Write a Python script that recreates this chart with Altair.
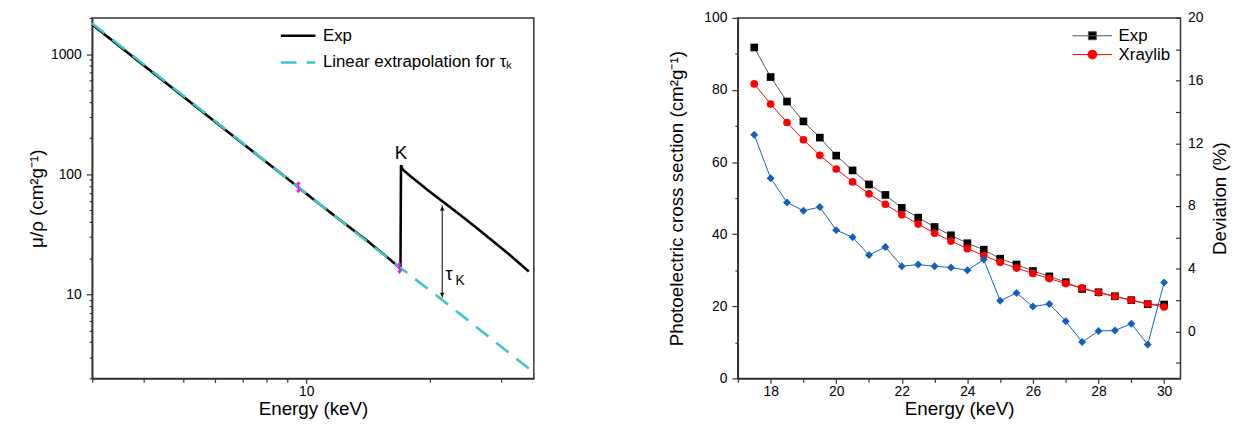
import altair as alt
import pandas as pd

FONT = "Liberation Sans"

# ---------------- Left panel: mu/rho vs energy (log-log) ----------------
exp_E = [3, 4, 5, 6, 7, 8, 9, 10, 12, 14, 16, 17.0, 17.05, 17.2, 17.46, 18, 19, 20, 21.8, 24, 26.3, 28, 31.6, 35]
exp_mu = [1760, 810, 445, 272, 180, 126, 92, 69, 42.5, 28.5, 19.6, 16.4, 119, 110, 105, 96, 83, 72, 57.6, 44.8, 35.0, 29.4, 21.0, 15.5]
lin_E = [3, 9.57, 16.9, 21.5, 35.1]
lin_mu = [1800, 78, 16.9, 9.0, 2.4]
fit_E = [9.57, 16.9]
fit_mu = [78, 16.6]
tau_E = [21.5]
tau_top = [55]
tau_bot = [9.4]
k_label_E = [17.05]
k_label_mu = [150]
tau_label_E = [21.9]
tau_label_mu = [14.5]

series_left = ["Exp", "Linear extrapolation for τₖ"]
colors_left = ["#000000", "#40c4c4"]

df_exp = pd.DataFrame({"E": exp_E, "mu": exp_mu, "curve": series_left[0]})
df_lin = pd.DataFrame({"E": lin_E, "mu": lin_mu, "curve": series_left[1]})
df_fit = pd.DataFrame({"E": fit_E, "mu": fit_mu})
df_tau = pd.DataFrame({"E": tau_E, "top": tau_top, "bot": tau_bot})
df_k = pd.DataFrame({"E": k_label_E, "mu": k_label_mu, "t": ["K"]})
df_tl = pd.DataFrame({"E": tau_label_E, "mu": tau_label_mu})

x_vals_left = [3, 4, 5, 6, 7, 8, 9, 10, 20, 30]
y_vals_left = [2, 3, 4, 5, 6, 7, 8, 9, 10, 20, 30, 40, 50, 60, 70, 80, 90,
               100, 200, 300, 400, 500, 600, 700, 800, 900, 1000, 2000]

xL = alt.X("E:Q", scale=alt.Scale(type="log", domain=[3, 36], nice=False),
           axis=alt.Axis(values=x_vals_left, labelExpr="datum.value == 10 ? '10' : ''",
                         title="Energy (keV)", labelPadding=1, titlePadding=1,
                         tickSize={"condition": {"test": "datum.value == 10", "value": 5}, "value": 4}))
yscaleL = alt.Scale(type="log", domain=[2, 2000], nice=False)
yL = alt.Y("mu:Q", scale=yscaleL,
           axis=alt.Axis(values=y_vals_left,
                         labelExpr="(datum.value == 10 || datum.value == 100 || datum.value == 1000) ? datum.value : ''",
                         title="μ/ρ (cm²g⁻¹)", labelPadding=5,
                         tickSize={"condition": {"test": "datum.value == 10 || datum.value == 100 || datum.value == 1000", "value": 6}, "value": 3}))

leg_left = alt.Legend(orient="none", legendX=189, legendY=-1, title=None, symbolType="stroke",
                      symbolSize=1225, symbolStrokeWidth=2.5, labelFontSize=17, labelOffset=6,
                      rowPadding=-14, labelLimit=400)
colL = alt.Color("curve:N", scale=alt.Scale(domain=series_left, range=colors_left), legend=leg_left)
dashL = alt.StrokeDash("curve:N", scale=alt.Scale(domain=series_left, range=[[1, 0], [16, 10]]), legend=leg_left)

exp_line = alt.Chart(df_exp).mark_line(strokeWidth=2.6).encode(x=xL, y=yL, color=colL, strokeDash=dashL)
lin_line = alt.Chart(df_lin).mark_line(strokeWidth=2.6).encode(x=xL, y=yL, color=colL, strokeDash=dashL)
fit_marks = alt.Chart(df_fit).mark_point(
    shape="M0,-1L0,1M-0.35,-0.6L0,-1L0.35,-0.6M-0.35,0.6L0,1L0.35,0.6",
    size=100, stroke="#ff00ff", strokeWidth=1.3, filled=False, opacity=1).encode(x=xL, y=yL)
tau_rule = alt.Chart(df_tau).mark_rule(color="black", strokeWidth=1).encode(
    x=xL, y=alt.Y("top:Q", scale=yscaleL), y2="bot:Q")
tau_head_top = alt.Chart(df_tau).mark_point(shape="triangle-up", size=22, filled=True, color="black", opacity=1).encode(
    x=xL, y=alt.Y("top:Q", scale=yscaleL), yOffset=alt.value(3))
tau_head_bot = alt.Chart(df_tau).mark_point(shape="triangle-down", size=22, filled=True, color="black", opacity=1).encode(
    x=xL, y=alt.Y("bot:Q", scale=yscaleL), yOffset=alt.value(-3))
k_text = alt.Chart(df_k).mark_text(fontSize=19, font=FONT, color="black").encode(x=xL, y=yL, text="t:N")
tau_text = alt.Chart(df_tl).mark_text(text="τ", fontSize=18, font=FONT, color="black", align="left").encode(x=xL, y=yL)
tau_sub = alt.Chart(df_tl).mark_text(text="K", fontSize=14, font=FONT, color="black", align="left", dx=10, dy=6).encode(x=xL, y=yL)

left = alt.layer(exp_line, lin_line, fit_marks, tau_rule, tau_head_top, tau_head_bot,
                 k_text, tau_text, tau_sub).properties(width=446, height=364)

# ---------------- Right panel: photoelectric cross section ----------------
E2 = [17.5, 18, 18.5, 19, 19.5, 20, 20.5, 21, 21.5, 22, 22.5, 23, 23.5, 24, 24.5,
      25, 25.5, 26, 26.5, 27, 27.5, 28, 28.5, 29, 29.5, 30]
exp_cs = [91.8, 83.6, 76.8, 71.3, 66.8, 61.8, 57.7, 53.8, 50.9, 47.3, 44.6, 42.0, 39.7, 37.5, 35.7,
          33.2, 31.6, 29.8, 28.3, 26.7, 24.8, 23.9, 22.8, 21.7, 20.6, 20.5]
xraylib_cs = [81.7, 76.1, 71.0, 66.2, 61.9, 58.1, 54.5, 51.2, 48.3, 45.4, 42.8, 40.3, 38.1, 36.0, 34.1,
              32.2, 30.6, 29.1, 27.7, 26.3, 25.1, 23.8, 22.7, 21.7, 20.7, 19.8]
deviation = [12.55, 9.77, 8.23, 7.70, 7.93, 6.46, 6.01, 4.87, 5.38, 4.16, 4.26, 4.16, 4.07, 3.90, 4.58,
             1.96, 2.45, 1.58, 1.75, 0.65, -0.68, 0.02, 0.06, 0.49, -0.84, 3.12]

series_right = ["Exp", "Xraylib"]
df_exp_cs = pd.DataFrame({"E": E2, "cs": exp_cs, "src": "Exp"})
df_xr_cs = pd.DataFrame({"E": E2, "cs": xraylib_cs, "src": "Xraylib"})
df_cs = pd.concat([df_exp_cs, df_xr_cs])
df_dev = pd.DataFrame({"E": E2, "dev": deviation})

xR = alt.X("E:Q", scale=alt.Scale(domain=[17, 30.5], nice=False),
           axis=alt.Axis(values=list(range(17, 31)), labelExpr="datum.value % 2 == 0 ? datum.value : ''",
                         title="Energy (keV)", labelPadding=1, titlePadding=1,
                         tickSize={"condition": {"test": "datum.value % 2 == 0", "value": 5}, "value": 4}))
yR = alt.Y("cs:Q", scale=alt.Scale(domain=[0, 100], nice=False),
           axis=alt.Axis(values=list(range(0, 101, 10)), labelExpr="datum.value % 20 == 0 ? datum.value : ''",
                         title="Photoelectric cross section (cm²g⁻¹)", titlePadding=18, labelPadding=5,
                         tickSize={"condition": {"test": "datum.value % 20 == 0", "value": 6}, "value": 3}))
yDev = alt.Y("dev:Q", scale=alt.Scale(domain=[-3, 20], nice=False),
             axis=alt.Axis(orient="right", values=list(range(-2, 21, 2)),
                           labelExpr="datum.value % 4 == 0 ? datum.value : ''",
                           title="Deviation (%)", titleAngle=270, titleBaseline="top", offset=-5, tickSize=5,
                           domain=False, labelPadding=7, titlePadding=8))

exp_l = alt.Chart(df_exp_cs).mark_line(strokeWidth=1, color="#555555").encode(x=xR, y=yR)
exp_p = alt.Chart(df_exp_cs).mark_point(filled=True, size=60, shape="square", color="#000000", opacity=1).encode(x=xR, y=yR)
xr_l = alt.Chart(df_xr_cs).mark_line(strokeWidth=1, color="#ff0000").encode(x=xR, y=yR)
xr_p = alt.Chart(df_xr_cs).mark_point(filled=True, size=60, shape="circle", color="#ff0000", opacity=1).encode(x=xR, y=yR)

# legend carrier: no rows drawn, explicit domains give a line+marker symbol per series
sq_path = "M-4,0H4M-0.8,-0.8H0.8V0.8H-0.8Z"
ci_path = "M-4,0H4M0.9,0A0.9,0.9,0,1,1,-0.9,0A0.9,0.9,0,1,1,0.9,0Z"
leg_right = alt.Legend(orient="none", legendX=349.5, legendY=9.5, title=None, symbolSize=100,
                       symbolStrokeWidth=1, labelFontSize=17, labelOffset=18, rowPadding=1)
legend_layer = alt.Chart(df_cs).transform_filter("datum.E < 0").mark_point(
    filled=True, opacity=1, strokeWidth=1).encode(
    x=xR, y=yR,
    shape=alt.Shape("src:N", scale=alt.Scale(domain=series_right, range=[sq_path, ci_path]), legend=leg_right),
    fill=alt.Fill("src:N", scale=alt.Scale(domain=series_right, range=["#000000", "#ff0000"]), legend=leg_right),
    stroke=alt.Stroke("src:N", scale=alt.Scale(domain=series_right, range=["#555555", "#ff0000"]), legend=leg_right))

dev_line = alt.Chart(df_dev).mark_line(strokeWidth=1, color="#1560bd").encode(x=xR, y=yDev)
dev_points = alt.Chart(df_dev).mark_point(filled=True, size=65, shape="diamond", color="#1560bd", opacity=1).encode(x=xR, y=yDev)

right = alt.layer(
    alt.layer(exp_l, exp_p, xr_l, xr_p, legend_layer),
    alt.layer(dev_line, dev_points),
).resolve_scale(y="independent").properties(width=447, height=364)

chart = alt.hconcat(left, right, spacing=131).resolve_scale(
    color="independent", strokeDash="independent", shape="independent", stroke="independent",
    fill="independent"
).resolve_legend(
    color="independent", strokeDash="independent", shape="independent", stroke="independent",
    fill="independent"
).configure(
    padding={"left": 19, "top": 0, "right": 0, "bottom": 0}, font=FONT
).configure_axis(
    grid=False, domainColor="#333333", domainWidth=1.5, tickColor="#333333", tickWidth=1.2,
    labelFontSize=14, labelColor="black", titleFontSize=19, titleFontWeight="normal",
    titleColor="black", labelFont=FONT, titleFont=FONT
).configure_view(stroke="#333333", strokeWidth=1.5).configure_legend(labelFont=FONT, labelColor="black")

chart.save("out.html", embed_options={"renderer": "svg", "actions": False})
